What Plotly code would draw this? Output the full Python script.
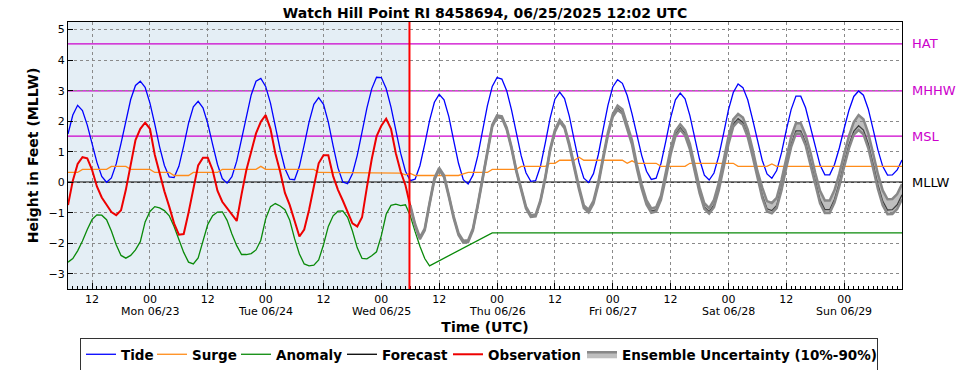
import plotly.graph_objects as go
import pandas as pd

# ---------------- data ----------------
series_start = "2025-06-22 07:00"   # hourly series start
forecast_start = "2025-06-25 06:00"
now_time = "2025-06-25 05:50"
x_range = ["2025-06-22 07:00", "2025-06-29 12:00"]

tide = [
    1.58, 2.20, 2.52, 2.35, 1.87, 1.26, 0.65, 0.19, 0.00, 0.14, 0.60, 1.27,   # 07-18 (06/22)
    2.04, 2.71, 3.17, 3.31, 3.11, 2.59, 1.90, 1.16, 0.55, 0.17, 0.15, 0.52,   # 19-06
    1.19, 1.93, 2.47, 2.65, 2.44, 1.92, 1.24, 0.59, 0.12, -0.03, 0.18, 0.69,  # 07-18 (06/23)
    1.41, 2.18, 2.86, 3.31, 3.40, 3.14, 2.59, 1.84, 1.08, 0.45, 0.10, 0.08,   # 19-06
    0.52, 1.22, 1.97, 2.55, 2.77, 2.55, 1.97, 1.19, 0.47, 0.01, -0.05, 0.28,  # 07-18 (06/24)
    0.88, 1.65, 2.43, 3.06, 3.44, 3.43, 3.07, 2.46, 1.70, 0.95, 0.36, 0.05,   # 19-06
    0.10, 0.54, 1.25, 2.02, 2.62, 2.88, 2.70, 2.15, 1.37, 0.62, 0.08, -0.06,  # 07-18 (06/25)
    0.23, 0.86, 1.69, 2.51, 3.14, 3.43, 3.38, 3.00, 2.37, 1.61, 0.87, 0.31,   # 19-06
    0.03, 0.05, 0.52, 1.28, 2.09, 2.72, 2.95, 2.74, 2.16, 1.39, 0.64, 0.13,   # 07-18 (06/26)
    -0.01, 0.28, 0.90, 1.72, 2.52, 3.12, 3.36, 3.24, 2.84, 2.24, 1.54, 0.88,  # 19-06
    0.36, 0.09, 0.13, 0.61, 1.34, 2.11, 2.70, 2.92, 2.73, 2.18, 1.46, 0.75,   # 07-18 (06/27)
    0.23, 0.07, 0.30, 0.86, 1.60, 2.37, 2.94, 3.22, 3.10, 2.70, 2.07, 1.35,   # 19-06
    0.72, 0.27, 0.13, 0.38, 0.96, 1.71, 2.38, 2.82, 2.82, 2.44, 1.83, 1.15,   # 07-18 (06/28)
    0.56, 0.24, 0.24, 0.58, 1.12, 1.76, 2.36, 2.81, 2.99, 2.85, 2.40, 1.74,   # 19-06
    1.06, 0.52, 0.23, 0.24, 0.40, 0.73,                                       # 07-12 (06/29)
]

surge = [
    0.32, 0.32, 0.32, 0.42, 0.42, 0.42, 0.42, 0.42, 0.42, 0.52, 0.52, 0.52,
    0.52, 0.42, 0.42, 0.42, 0.42, 0.42, 0.32, 0.32, 0.32, 0.32, 0.22, 0.22,
    0.22, 0.22, 0.32, 0.32, 0.32, 0.32, 0.32, 0.32, 0.42, 0.42, 0.42, 0.42,
    0.42, 0.42, 0.42, 0.42, 0.52, 0.42, 0.42, 0.42, 0.42, 0.42, 0.42, 0.42,
    0.42, 0.42, 0.42, 0.42, 0.32, 0.32, 0.32, 0.32, 0.32, 0.32, 0.32, 0.32,
    0.32, 0.32, 0.32, 0.32, 0.32, 0.32, 0.32, 0.32, 0.32, 0.30, 0.24, 0.29,
    0.22, 0.22, 0.22, 0.22, 0.22, 0.22, 0.22, 0.22, 0.22, 0.22, 0.27, 0.32,
    0.32, 0.32, 0.32, 0.32, 0.42, 0.42, 0.42, 0.42, 0.42, 0.42, 0.52, 0.52,
    0.52, 0.52, 0.52, 0.52, 0.62, 0.62, 0.72, 0.72, 0.72, 0.72, 0.82, 0.72,
    0.72, 0.72, 0.72, 0.72, 0.72, 0.72, 0.72, 0.72, 0.62, 0.70, 0.62, 0.62,
    0.62, 0.62, 0.62, 0.52, 0.52, 0.52, 0.52, 0.52, 0.52, 0.62, 0.62, 0.62,
    0.62, 0.62, 0.62, 0.62, 0.62, 0.62, 0.62, 0.52, 0.52, 0.52, 0.52, 0.52,
    0.52, 0.52, 0.60, 0.52, 0.52, 0.52, 0.52, 0.52, 0.52, 0.52, 0.52, 0.52,
    0.52, 0.52, 0.52, 0.52, 0.52, 0.52, 0.52, 0.52, 0.52, 0.52, 0.52, 0.52,
    0.52, 0.52, 0.52, 0.52, 0.52, 0.52,
]

anomaly = [
    -2.62, -2.50, -2.25, -1.93, -1.55, -1.22, -1.07, -1.08, -1.23, -1.60, -2.05, -2.40,
    -2.49, -2.40, -2.22, -1.95, -1.30, -0.96, -0.80, -0.84, -0.93, -1.10, -1.45, -1.90,
    -2.30, -2.62, -2.68, -2.48, -1.90, -1.38, -1.10, -0.98, -0.97, -1.25, -1.70, -2.08,
    -2.37, -2.37, -2.34, -2.22, -1.90, -1.20, -0.80, -0.70, -0.78, -0.90, -1.25, -1.85,
    -2.35, -2.68, -2.74, -2.72, -2.55, -2.05, -1.45, -1.10, -0.95, -0.94, -1.15, -1.60,
    -2.15, -2.50, -2.51, -2.41, -2.28, -1.75, -1.05, -0.76, -0.72, -0.77, -0.74, -1.10,
    -1.62, -2.10, -2.50, -2.74, None, None, None, None, None, None, None, None,
    None, None, None, None, -1.66, -1.66, -1.66, -1.66, -1.66, -1.66, -1.66, -1.66,
    -1.66, -1.66, -1.66, -1.66, -1.66, -1.66, -1.66, -1.66, -1.66, -1.66, -1.66, -1.66,
    -1.66, -1.66, -1.66, -1.66, -1.66, -1.66, -1.66, -1.66, -1.66, -1.66, -1.66, -1.66,
    -1.66, -1.66, -1.66, -1.66, -1.66, -1.66, -1.66, -1.66, -1.66, -1.66, -1.66, -1.66,
    -1.66, -1.66, -1.66, -1.66, -1.66, -1.66, -1.66, -1.66, -1.66, -1.66, -1.66, -1.66,
    -1.66, -1.66, -1.66, -1.66, -1.66, -1.66, -1.66, -1.66, -1.66, -1.66, -1.66, -1.66,
    -1.66, -1.66, -1.66, -1.66, -1.66, -1.66, -1.66, -1.66, -1.66, -1.66, -1.66, -1.66,
    -1.66, -1.66, -1.66, -1.66, -1.66, -1.66,
]

observation = [
    -0.75, 0.05, 0.60, 0.82, 0.78, 0.40, -0.14, -0.50, -0.74, -0.98, -1.08, -0.92,
    -0.25, 0.60, 1.38, 1.75, 1.95, 1.75, 0.90, 0.30, -0.30, -0.80, -1.35, -1.72,
    -1.70, -1.00, -0.25, 0.55, 0.80, 0.80, 0.40, -0.28, -0.64, -0.85, -1.10, -1.27,
    -0.40, 0.40, 1.00, 1.60, 1.98, 2.20, 1.75, 0.95, 0.35, -0.35, -0.75, -1.25,
    -1.78, -1.55, -0.91, -0.14, 0.62, 0.88, 0.88, 0.20, -0.25, -0.60, -1.00, -1.35,
    -1.45, -1.15, -0.17, 0.75, 1.50, 1.85, 2.08, 1.75, 0.95, 0.35, -0.10, -0.78,
]

forecast = [
    -0.78, -1.40, -1.84, -1.55, -0.70, 0.10, 0.44, 0.20, -0.45, -1.15, -1.70, -1.95,
    -1.93, -1.55, -0.75, 0.15, 1.05, 1.85, 2.16, 2.13, 1.76, 1.13, 0.37, -0.27,
    -0.83, -1.11, -1.09, -0.62, 0.14, 1.05, 1.68, 2.01, 1.80, 1.22, 0.45, -0.20,
    -0.81, -0.95, -0.66, -0.04, 0.78, 1.58, 2.18, 2.42, 2.30, 1.80, 1.28, 0.50,
    -0.16, -0.68, -0.95, -0.91, -0.53, 0.20, 0.97, 1.56, 1.78, 1.59, 1.14, 0.42,
    -0.29, -0.81, -0.97, -0.74, -0.18, 0.56, 1.33, 1.90, 2.08, 1.96, 1.56, 0.93,
    0.21, -0.42, -0.87, -0.93, -0.76, -0.18, 0.57, 1.24, 1.68, 1.68, 1.30, 0.69,
    0.01, -0.58, -0.90, -0.90, -0.56, -0.02, 0.62, 1.22, 1.67, 1.85, 1.71, 1.26,
    0.60, -0.08, -0.62, -0.91, -0.90, -0.74, -0.41,
]

ens_low = [
    -0.81, -1.43, -1.87, -1.58, -0.73, 0.07, 0.41, 0.17, -0.48, -1.18, -1.73, -1.98,
    -1.96, -1.58, -0.78, 0.12, 1.02, 1.82, 2.13, 2.10, 1.73, 1.10, 0.34, -0.30,
    -0.86, -1.14, -1.12, -0.65, 0.11, 1.02, 1.65, 1.98, 1.77, 1.18, 0.41, -0.24,
    -0.85, -0.99, -0.70, -0.08, 0.74, 1.54, 2.14, 2.37, 2.25, 1.75, 1.23, 0.45,
    -0.21, -0.73, -1.00, -0.96, -0.58, 0.14, 0.91, 1.50, 1.72, 1.53, 1.08, 0.36,
    -0.35, -0.87, -1.03, -0.82, -0.26, 0.48, 1.25, 1.82, 2.00, 1.88, 1.48, 0.85,
    0.13, -0.51, -0.96, -1.02, -0.85, -0.27, 0.48, 1.15, 1.59, 1.59, 1.21, 0.58,
    -0.10, -0.69, -1.01, -1.01, -0.67, -0.13, 0.51, 1.11, 1.56, 1.71, 1.57, 1.12,
    0.46, -0.22, -0.76, -1.05, -1.04, -0.88, -0.55,
]

ens_high = [
    -0.75, -1.37, -1.81, -1.52, -0.67, 0.13, 0.47, 0.23, -0.42, -1.12, -1.67, -1.92,
    -1.90, -1.52, -0.72, 0.18, 1.08, 1.88, 2.19, 2.16, 1.79, 1.16, 0.40, -0.24,
    -0.80, -1.08, -1.06, -0.59, 0.17, 1.08, 1.71, 2.04, 1.83, 1.27, 0.50, -0.15,
    -0.76, -0.90, -0.61, 0.01, 0.83, 1.63, 2.23, 2.51, 2.39, 1.89, 1.37, 0.59,
    -0.07, -0.59, -0.86, -0.82, -0.44, 0.32, 1.09, 1.68, 1.90, 1.71, 1.26, 0.54,
    -0.17, -0.69, -0.85, -0.58, -0.02, 0.72, 1.49, 2.06, 2.24, 2.12, 1.72, 1.09,
    0.37, -0.17, -0.62, -0.68, -0.51, 0.07, 0.82, 1.49, 1.93, 1.93, 1.55, 0.99,
    0.31, -0.28, -0.60, -0.60, -0.26, 0.28, 0.92, 1.52, 1.97, 2.20, 2.06, 1.61,
    0.95, 0.27, -0.27, -0.56, -0.55, -0.39, -0.06,
]

datum_names = ["HAT", "MHHW", "MSL", "MLLW"]
datum_values = [4.53, 2.99, 1.51, 0.00]

x_tick_vals = [
    "2025-06-22 12:00", "2025-06-23 00:00", "2025-06-23 12:00", "2025-06-24 00:00",
    "2025-06-24 12:00", "2025-06-25 00:00", "2025-06-25 12:00", "2025-06-26 00:00",
    "2025-06-26 12:00", "2025-06-27 00:00", "2025-06-27 12:00", "2025-06-28 00:00",
    "2025-06-28 12:00", "2025-06-29 00:00",
]
x_tick_text = ["12", "00", "12", "00", "12", "00", "12", "00", "12", "00", "12", "00",
               "12", "00"]
day_label_times = ["2025-06-23 00:00", "2025-06-24 00:00", "2025-06-25 00:00",
                   "2025-06-26 00:00", "2025-06-27 00:00", "2025-06-28 00:00",
                   "2025-06-29 00:00"]
day_labels = ["Mon 06/23", "Tue 06/24", "Wed 06/25", "Thu 06/26", "Fri 06/27",
              "Sat 06/28", "Sun 06/29"]
y_tick_vals = [-3, -2, -1, 0, 1, 2, 3, 4, 5]
y_tick_text = ["\u22123", "\u22122", "\u22121", "0", "1", "2", "3", "4", "5"]

legend_names = ["Tide", "Surge", "Anomaly", "Forecast", "Observation",
                "Ensemble Uncertainty (10%-90%)"]

# ---------------- figure ----------------
FONT = "DejaVu Sans"
MAGENTA = "#cc00cc"
W, H = 969, 370
ML, MR, MT, MB = 68, 67, 22, 81
PH = H - MT - MB

t_all = pd.date_range(series_start, periods=len(tide), freq="h")
t_obs = t_all[:len(observation)]
t_fc = pd.date_range(forecast_start, periods=len(forecast), freq="h")

fig = go.Figure()
fig.add_trace(go.Scatter(x=t_all, y=tide, mode="lines", name=legend_names[0],
                         legendwidth=26, line=dict(color="#0000ff", width=1.3)))
fig.add_trace(go.Scatter(x=t_all, y=surge, mode="lines", name=legend_names[1],
                         legendwidth=39, line=dict(color="#ff8c1a", width=1.3)))
fig.add_trace(go.Scatter(x=t_all, y=anomaly, mode="lines", name=legend_names[2],
                         legendwidth=61, connectgaps=True,
                         line=dict(color="#0a8a0a", width=1.3)))
fig.add_trace(go.Scatter(x=t_fc, y=forecast, mode="lines", name=legend_names[3],
                         legendwidth=61, line=dict(color="#000000", width=1.3)))
fig.add_trace(go.Scatter(x=t_obs, y=observation, mode="lines", name=legend_names[4],
                         legendwidth=89, line=dict(color="#ee0000", width=2)))
fig.add_trace(go.Scatter(x=t_fc, y=ens_low, mode="lines", showlegend=False,
                         line=dict(color="#888888", width=2.5), hoverinfo="skip"))
fig.add_trace(go.Scatter(x=t_fc, y=ens_high, mode="lines", fill="tonexty",
                         fillcolor="rgba(128,128,128,0.5)", name=legend_names[5],
                         legendwidth=250, line=dict(color="#888888", width=2.5)))

shapes = [
    dict(type="rect", xref="x", yref="paper", x0=x_range[0], x1=now_time, y0=0, y1=1,
         fillcolor="#e4eef5", line=dict(width=0), layer="below"),
]
annotations = []
for name, val in zip(datum_names, datum_values):
    col = "#000000" if name == "MLLW" else MAGENTA
    shapes.append(dict(type="line", xref="paper", yref="y", x0=0, x1=1, y0=val, y1=val,
                       line=dict(color=col, width=1.3), layer="between"))
    annotations.append(dict(xref="paper", yref="y", x=1.01, y=val, text=name,
                            showarrow=False, xanchor="left", yanchor="middle",
                            font=dict(family=FONT, size=13, color=col)))
shapes.append(dict(type="line", xref="x", yref="paper", x0=now_time, x1=now_time,
                   y0=0, y1=1, line=dict(color="#ff0000", width=2), layer="above"))

for tv, lab in zip(day_label_times, day_labels):
    annotations.append(dict(xref="x", yref="paper", x=tv, y=-(311.5 - (H - MB)) / PH,
                            text=lab, showarrow=False, xanchor="center",
                            yanchor="middle",
                            font=dict(family=FONT, size=11, color="black")))

fig.update_layout(
    width=W, height=H,
    margin=dict(l=ML, r=MR, t=MT, b=MB, autoexpand=False),
    paper_bgcolor="white", plot_bgcolor="white",
    font=dict(family=FONT, size=11, color="black"),
    title=dict(text="Watch Hill Point RI 8458694, 06/25/2025 12:02 UTC",
               font=dict(family=FONT, size=14, color="black", weight="bold"),
               x=0.5, xref="paper", xanchor="center",
               y=1 - 13 / H, yref="container", yanchor="middle"),
    shapes=shapes,
    annotations=annotations,
    showlegend=True,
    legend=dict(orientation="h", traceorder="normal",
                xref="container", x=80 / W, xanchor="left",
                yref="container", y=1 - 338 / H, yanchor="top",
                bordercolor="#333333", borderwidth=1, bgcolor="white",
                font=dict(family=FONT, size=13.5, color="black", weight="bold"),
                itemwidth=30, tracegroupgap=0),
    xaxis=dict(
        type="date", range=x_range,
        tickmode="array", tickvals=x_tick_vals, ticktext=x_tick_text,
        ticks="inside", ticklen=6, tickcolor="black", tickwidth=1,
        tickfont=dict(family=FONT, size=11, color="black"),
        showgrid=True, gridcolor="#8a8a8a", griddash="dot", gridwidth=1,
        showline=True, mirror=True, linecolor="black", linewidth=1.3,
        zeroline=False,
        minor=dict(dtick=3600000, tick0="2025-06-22 00:00", ticks="inside",
                   ticklen=3, tickcolor="black", showgrid=False),
        title=dict(text="Time (UTC)", standoff=16,
                   font=dict(family=FONT, size=14, color="black", weight="bold")),
    ),
    yaxis=dict(
        range=[-3.5, 5.25],
        tickmode="array", tickvals=y_tick_vals, ticktext=y_tick_text,
        ticks="inside", ticklen=5, tickcolor="black",
        tickfont=dict(family=FONT, size=11, color="black"),
        showgrid=True, gridcolor="#8a8a8a", griddash="dot", gridwidth=1,
        showline=True, mirror=True, linecolor="black", linewidth=1.3,
        zeroline=False,
        title=dict(text="Height in Feet (MLLW)", standoff=6,
                   font=dict(family=FONT, size=14, color="black", weight="bold")),
    ),
)

fig.write_html("out.html",
               config={"displayModeBar": False},
               post_script="document.body.style.margin='0px';"
                           "document.body.style.overflow='hidden';")
